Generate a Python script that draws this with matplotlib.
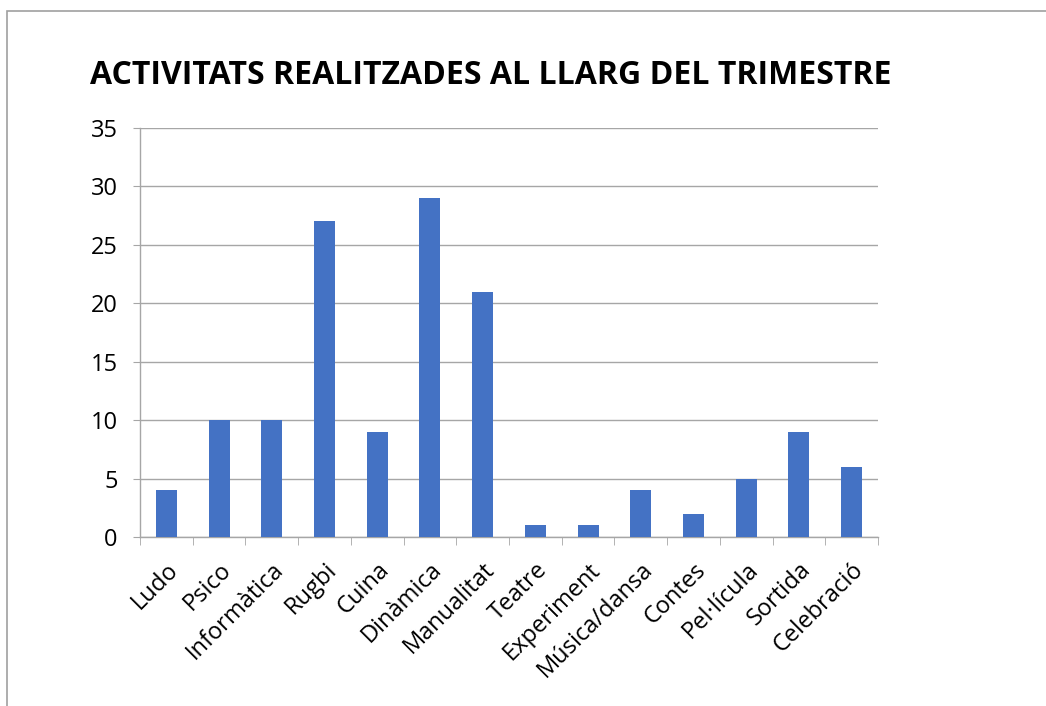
#!/usr/bin/env python3

import numpy as np
import matplotlib.pyplot as plt
from matplotlib.patches import Rectangle

categories = ["Ludo", "Psico", "Informàtica", "Rugbi", "Cuina", "Dinàmica",
              "Manualitat", "Teatre", "Experiment", "Música/dansa", "Contes",
              "Pel·lícula", "Sortida", "Celebració"]
values = [4, 10, 10, 27, 9, 29, 21, 1, 1, 4, 2, 5, 9, 6]
yticks = [0, 5, 10, 15, 20, 25, 30, 35]

plt.rcParams['font.family'] = ['Open Sans', 'DejaVu Sans']

fig = plt.figure(figsize=(10.46, 7.06), dpi=100)
ax = fig.add_axes([140/1046, 1 - 537/706, 738/1046, 409/706])

x = np.arange(len(categories))
ax.bar(x, values, width=0.4, color='#4472C4', zorder=3)

ax.set_xlim(-0.5, len(categories) - 0.5)
ax.set_ylim(0, 35)
ax.set_yticks(yticks)
ax.tick_params(axis='y', length=5, color='#a6a6a6', labelsize=17, pad=11, labelcolor='black')
ax.grid(axis='y', color='#a6a6a6', linewidth=1, zorder=0)

ax.set_xticks(x)
ax.set_xticklabels(categories, rotation=45, ha='right', rotation_mode='anchor', fontsize=17)
ax.set_xticks(np.arange(-0.5, len(categories)), minor=True)
ax.tick_params(axis='x', which='major', length=0, pad=15)
ax.tick_params(axis='x', which='minor', length=6, color='#a6a6a6')

for s in ['top', 'right']:
    ax.spines[s].set_visible(False)
for s in ['left', 'bottom']:
    ax.spines[s].set_color('#a6a6a6')
    ax.spines[s].set_linewidth(1)

fig.text(491/1046, 1 - 75/706, "ACTIVITATS REALITZADES AL LLARG DEL TRIMESTRE",
         ha='center', va='center', fontsize=23, fontweight='bold')

fig.patches.append(Rectangle((7/1046, -0.1), 1.2, 1.1 - 11/706, transform=fig.transFigure,
                             fill=False, edgecolor='#a0a0a0', linewidth=1.2))

fig.savefig("out.png", dpi=100)
